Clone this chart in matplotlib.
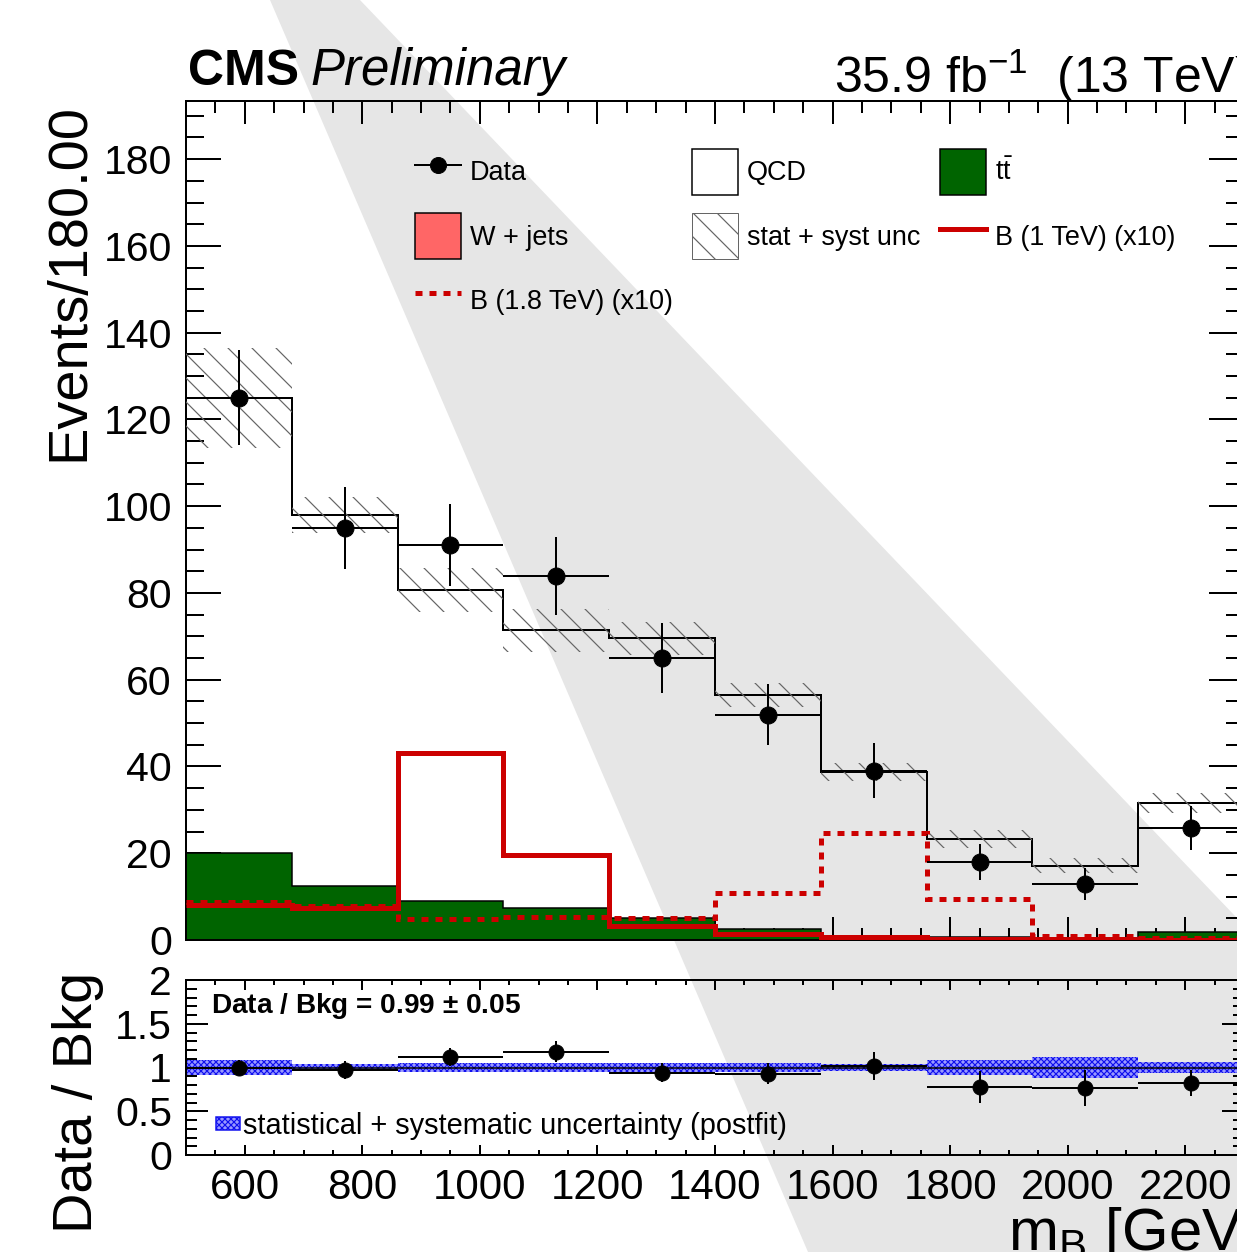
import numpy as np
import matplotlib
matplotlib.use('Agg')
import matplotlib.pyplot as plt
from matplotlib.ticker import MultipleLocator, FuncFormatter
from matplotlib.patches import Patch, Polygon
from matplotlib.lines import Line2D

plt.rcParams['font.family'] = ['Liberation Sans', 'DejaVu Sans']
plt.rcParams['mathtext.fontset'] = 'custom'
plt.rcParams['mathtext.rm'] = 'Liberation Sans'
plt.rcParams['mathtext.it'] = 'Liberation Sans:italic'
plt.rcParams['mathtext.bf'] = 'Liberation Sans:bold'
plt.rcParams['mathtext.default'] = 'regular'
plt.rcParams['hatch.linewidth'] = 1.2

# binning (GeV)
edges = [500, 680, 860, 1040, 1220, 1400, 1580, 1760, 1940, 2120, 2300]
centers = [590, 770, 950, 1130, 1310, 1490, 1670, 1850, 2030, 2210]

# observed data
data = [125.0, 95.0, 91.0, 83.9, 65.0, 51.9, 39.0, 18.0, 12.9, 25.8]
data_err = [11.0, 9.5, 9.5, 9.0, 8.0, 7.0, 6.3, 4.2, 3.7, 5.0]

# backgrounds (stacked: W+jets, ttbar, QCD)
wjets = [0.3, 0.3, 0.2, 0.2, 0.3, 0.1, 0.1, 0.05, 0.05, 0.05]
ttbar = [19.7, 12.1, 8.9, 7.2, 4.7, 2.5, 0.9, 0.55, 0.45, 1.75]
qcd = [105.0, 85.6, 71.6, 64.0, 64.5, 53.9, 37.7, 22.6, 16.6, 29.8]
bkg_unc = [11.5, 4.2, 5.1, 5.0, 3.7, 2.8, 2.1, 2.1, 1.7, 2.3]

# signals (x10)
sig_1tev = [8.1, 7.4, 43.1, 19.6, 3.3, 1.4, 0.6, 0.3, 0.3, 0.05]
sig_18tev = [8.8, 7.8, 4.8, 5.2, 5.1, 10.8, 24.7, 9.4, 1.0, 0.4]

# ratio panel
ratio = [1.0, 0.97, 1.12, 1.18, 0.94, 0.93, 1.02, 0.78, 0.765, 0.826]
ratio_err = [0.09, 0.1, 0.1, 0.12, 0.11, 0.12, 0.16, 0.18, 0.21, 0.15]
ratio_unc = [0.09, 0.04, 0.05, 0.05, 0.057, 0.05, 0.04, 0.09, 0.115, 0.067]

W, H = 1237, 1252
fig = plt.figure(figsize=(W / 72, H / 72), dpi=72)
fig.patch.set_facecolor('white')

def fx(x):
    return x / W

def fy(y):
    return 1 - y / H

# light grey diagonal band in the background
band = Polygon([(fx(270), fy(0)), (fx(360), fy(0)), (fx(1556), fy(1252)), (fx(808), fy(1252))],
               closed=True, transform=fig.transFigure, facecolor='#e6e6e6', edgecolor='none', zorder=-5)
fig.add_artist(band)

ax = fig.add_axes([fx(186), fy(940), (1244 - 186) / W, (940 - 101) / H])
axr = fig.add_axes([fx(186), fy(1155), (1244 - 186) / W, (1155 - 980) / H])
for a in (ax, axr):
    a.set_facecolor('none')
    for s in a.spines.values():
        s.set_linewidth(2)

wj = np.array(wjets)
tt_top = wj + np.array(ttbar)
tot = tt_top + np.array(qcd)
unc = np.array(bkg_unc)

red = '#cc0000'
green = '#006400'
blue = '#1010ee'

ax.stairs(wj, edges, fill=True, color='#ff6666', zorder=2)
ax.stairs(tt_top, edges, baseline=wj, fill=True, color=green, zorder=2)
ax.stairs(tt_top, edges, baseline=None, color='k', lw=1.5, zorder=3)
ax.stairs(tot, edges, baseline=None, color='k', lw=2, zorder=3)
ax.bar(centers, 2 * unc, bottom=tot - unc, width=180, facecolor='none',
       edgecolor='0.4', hatch='\\', lw=0, zorder=3)
ax.stairs(sig_18tev, edges, baseline=None, color=red, lw=5, ls=(0, (1.4, 1.4)), zorder=4)
ax.stairs(sig_1tev, edges, baseline=None, color=red, lw=5, zorder=4)
ax.errorbar(centers, data, yerr=data_err, xerr=90, fmt='o', color='k', ms=17,
            elinewidth=2, capsize=0, zorder=5)

ax.set_xlim(500, 2300)
ax.set_ylim(0, 193.4)
ax.xaxis.set_major_locator(MultipleLocator(200))
ax.xaxis.set_minor_locator(MultipleLocator(50))
ax.yaxis.set_major_locator(MultipleLocator(20))
ax.yaxis.set_minor_locator(MultipleLocator(5))
ax.tick_params(axis='x', which='both', direction='in', top=True, bottom=True, labelbottom=False, width=2)
ax.tick_params(axis='x', which='major', length=23)
ax.tick_params(axis='x', which='minor', length=12)
ax.tick_params(axis='y', which='both', direction='in', left=True, right=True, width=2, labelsize=41, pad=14)
ax.tick_params(axis='y', which='major', length=35)
ax.tick_params(axis='y', which='minor', length=18)

# ratio panel
r_unc = np.array(ratio_unc)
axr.bar(centers, 2 * r_unc, bottom=1 - r_unc, width=180, facecolor='#9a9aff',
        edgecolor=blue, hatch='xxxx', lw=0, zorder=2)
axr.axhline(1, color='k', lw=1.5, zorder=3)
axr.errorbar(centers, ratio, yerr=ratio_err, xerr=90, fmt='o', color='k', ms=15,
             elinewidth=2, capsize=0, zorder=5)
axr.set_xlim(500, 2300)
axr.set_ylim(0, 2)
axr.xaxis.set_major_locator(MultipleLocator(200))
axr.xaxis.set_minor_locator(MultipleLocator(50))
axr.yaxis.set_major_locator(MultipleLocator(0.5))
axr.yaxis.set_minor_locator(MultipleLocator(0.1))
axr.yaxis.set_major_formatter(FuncFormatter(lambda v, p: '%g' % v))
axr.tick_params(axis='x', which='both', direction='in', top=True, bottom=True, width=2, labelsize=42, pad=13)
axr.tick_params(axis='x', which='major', length=10)
axr.tick_params(axis='x', which='minor', length=5)
axr.tick_params(axis='y', which='both', direction='in', left=True, right=True, width=2, labelsize=41, pad=14)
axr.tick_params(axis='y', which='major', length=22)
axr.tick_params(axis='y', which='minor', length=11)

# legend
handles = [
    Line2D([], [], color='k', marker='o', ms=16, lw=2),
    Patch(facecolor='#ff6666', edgecolor='k', lw=1.5),
    Line2D([], [], color=red, lw=5, ls=(0, (1.4, 1.4))),
    Patch(facecolor='white', edgecolor='k', lw=1.5),
    Patch(facecolor='white', edgecolor='0.4', hatch='\\', lw=1),
    Patch(facecolor=green, edgecolor='k', lw=1.5),
    Line2D([], [], color=red, lw=5),
]
labels = ['Data', 'W + jets', 'B (1.8 TeV) (x10)', 'QCD', 'stat + syst unc',
          r'$\mathrm{t\bar{t}}$', 'B (1 TeV) (x10)']
ax.legend(handles, labels, loc='upper left', bbox_to_anchor=(fx(415), fy(149)),
          bbox_transform=fig.transFigure, frameon=False, ncol=3, fontsize=27,
          borderpad=0, borderaxespad=0, handlelength=1.7, handleheight=2.245,
          labelspacing=0.68, handletextpad=0.33, columnspacing=0.72)

axr.legend([Patch(facecolor='#9a9aff', edgecolor=blue, hatch='xxxx', lw=1.5)],
           ['statistical + systematic uncertainty (postfit)'],
           loc='upper left', bbox_to_anchor=(fx(216), fy(1112)), bbox_transform=fig.transFigure,
           frameon=False, fontsize=29, borderpad=0, borderaxespad=0,
           handlelength=0.83, handleheight=0.3, handletextpad=0.1)

axr.text(fx(211), fy(1013), 'Data / Bkg = 0.99 $\\pm$ 0.05', transform=fig.transFigure,
         fontsize=28, weight='bold', va='baseline', ha='left')

# titles and axis labels
fig.text(fx(188), fy(85), 'CMS', fontsize=50, weight='bold', va='baseline')
fig.text(fx(310), fy(85), 'Preliminary', fontsize=51, style='italic', va='baseline')
fig.text(fx(1250), fy(93), r'35.9 fb$^{\mathregular{-1}}$  (13 TeV)', fontsize=50,
         ha='right', va='baseline')
fig.text(fx(83), fy(103), 'Events/180.00', fontsize=56, rotation=90,
         rotation_mode='anchor', ha='right', va='baseline')
fig.text(fx(92), fy(972), 'Data / Bkg', fontsize=56, rotation=90,
         rotation_mode='anchor', ha='right', va='baseline')
fig.text(fx(1256), fy(1250), r'm$_{\mathregular{B}}$ [GeV]', fontsize=60,
         ha='right', va='baseline')

fig.savefig('out.png', dpi=72)
